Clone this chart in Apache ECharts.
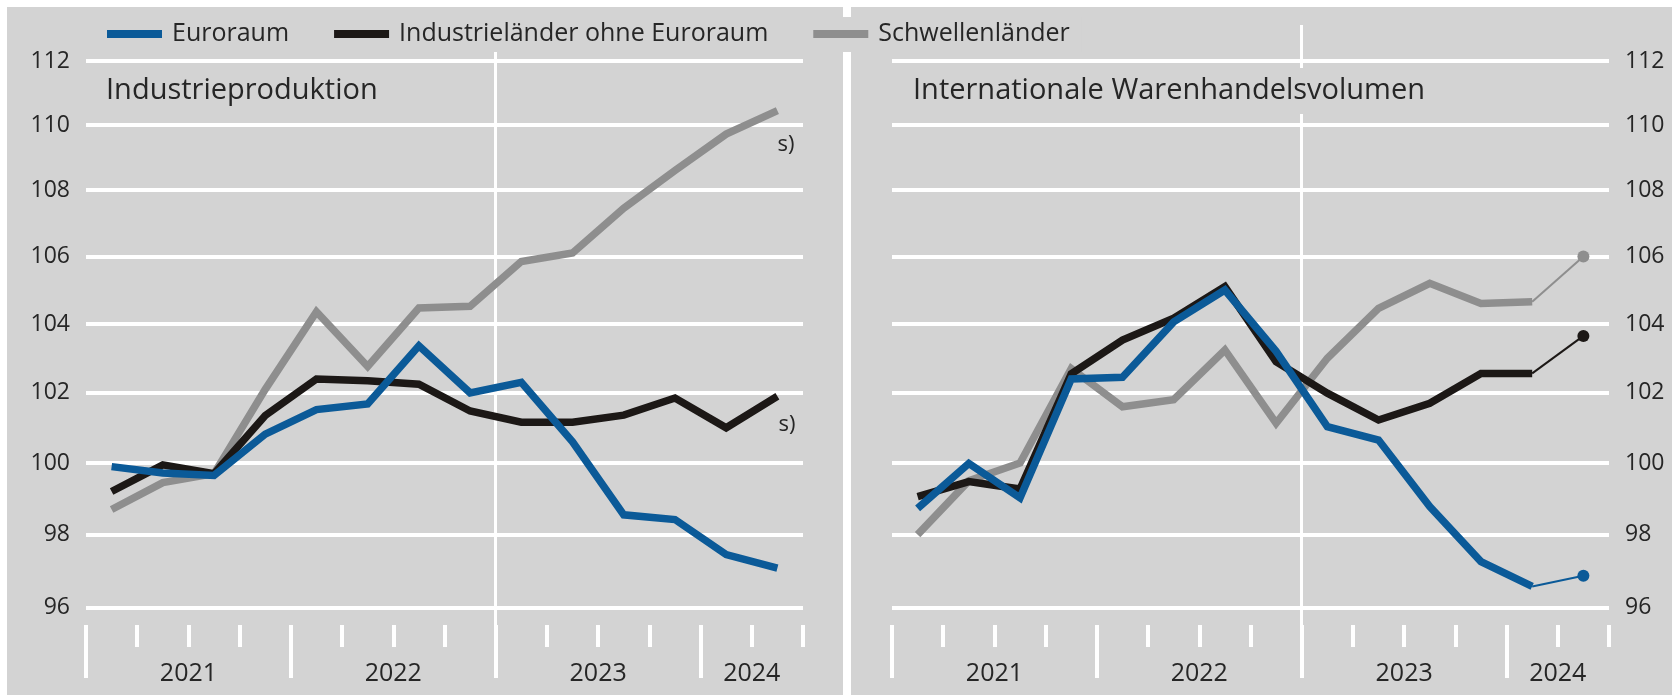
<!DOCTYPE html>
<html>
<head>
<meta charset="utf-8">
<script src="https://cdn.jsdelivr.net/npm/echarts@6/dist/echarts.min.js"></script>
<style>
  html, body { margin: 0; padding: 0; background: #ffffff; }
  #wrap { position: relative; width: 1672px; height: 695px; overflow: hidden; }
  .bg { position: absolute; background: #d3d3d3; }
  #chart { position: absolute; left: 0; top: 0; width: 1672px; height: 695px; }
</style>
</head>
<body>
<div id="wrap">
  <div class="bg" style="left:7px;top:7px;width:836px;height:688px;"></div>
  <div class="bg" style="left:851px;top:7px;width:821px;height:688px;"></div>
  <div id="chart"></div>
</div>
<script>
// ---------- data ----------
const quarters = ['2021 Q1','2021 Q2','2021 Q3','2021 Q4','2022 Q1','2022 Q2','2022 Q3','2022 Q4',
                  '2023 Q1','2023 Q2','2023 Q3','2023 Q4','2024 Q1','2024 Q2'];
const years = ['2021', '2022', '2023', '2024'];
const quartersPerYear = [4, 4, 4, 2];
const yTicks = [96, 98, 100, 102, 104, 106, 108, 110, 112];

const seriesNames = ['Euroraum', 'Industrieländer ohne Euroraum', 'Schwellenländer'];
const panelTitles = ['Industrieproduktion', 'Internationale Warenhandelsvolumen'];

// Industrieproduktion (left)
const ipEuro  = [99.9, 99.72, 99.65, 100.82, 101.52, 101.68, 103.36, 102.0, 102.3, 100.6, 98.55, 98.42, 97.45, 97.08];
const ipInd   = [99.2, 99.95, 99.7, 101.35, 102.4, 102.35, 102.25, 101.48, 101.16, 101.16, 101.36, 101.85, 101.0, 101.9];
const ipEm    = [98.7, 99.45, 99.7, 102.1, 104.36, 102.76, 104.47, 104.52, 105.85, 106.1, 107.45, 108.6, 109.72, 110.45];

// Internationale Warenhandelsvolumen (right): 13 quarters + latest value
const tvEuro  = [98.73, 99.99, 99.02, 102.4, 102.45, 104.06, 105.0, 103.2, 101.03, 100.65, 98.78, 97.26, 96.58];
const tvInd   = [99.06, 99.48, 99.27, 102.55, 103.53, 104.17, 105.1, 102.9, 101.99, 101.22, 101.7, 102.56, 102.56];
const tvEm    = [98.0, 99.5, 100.0, 102.7, 101.6, 101.8, 103.24, 101.13, 103.0, 104.46, 105.2, 104.6, 104.65];
const tvEuroLatest = 96.87;
const tvIndLatest  = 103.65;
const tvEmLatest   = 106.0;

// ---------- style ----------
const FONT = '"Open Sans", "Noto Sans", sans-serif';
const TXT = '#262626';
const BG = '#d3d3d3';
const colors = { euro: '#0b5a98', ind: '#1c1816', em: '#8e8e8e' };

// tick positions (in quarter units) derived from year structure
const yearStarts = [];
let acc = 0;
quartersPerYear.forEach(q => { yearStarts.push(acc); acc += q; });
const nQ = quarters.length;
const longTicks = yearStarts.slice();
const shortTicks = [];
for (let i = 1; i <= nQ; i++) { if (longTicks.indexOf(i) < 0) shortTicks.push(i); }
const labelPos = yearStarts.map((s, i) => s + quartersPerYear[i] / 2);
const yearLabelMap = {};
labelPos.forEach((p, i) => { yearLabelMap[p] = years[i]; });
const splitYearIndex = years.indexOf('2023');
const splitTick = yearStarts[splitYearIndex];

const grids = [
  { left: 86, top: 61, width: 717, height: 547 },
  { left: 892, top: 61, width: 717, height: 547 }
];

const xAxes = [];
const yAxes = [];
[0, 1].forEach(g => {
  xAxes.push({ // data axis
    type: 'category', gridIndex: g, data: quarters, boundaryGap: true, show: false
  });
  const base = {
    type: 'value', gridIndex: g, min: 0, max: nQ, position: 'bottom',
    axisLine: { show: false }, splitLine: { show: false }
  };
  xAxes.push(Object.assign({}, base, { // short quarter ticks
    offset: 17,
    axisTick: { show: true, length: 22, customValues: shortTicks, lineStyle: { color: '#fff', width: 4 } },
    axisLabel: { show: false }
  }));
  xAxes.push(Object.assign({}, base, { // long year ticks + labels
    offset: 17,
    axisTick: { show: true, length: 53, customValues: longTicks, lineStyle: { color: '#fff', width: 4 } },
    axisLabel: {
      show: true, customValues: labelPos, margin: 36,
      formatter: v => yearLabelMap[v] || '',
      fontFamily: FONT, fontSize: 25, color: TXT
    }
  }));
  xAxes.push(Object.assign({}, base, { // vertical year separator line
    offset: 70,
    axisTick: { show: true, inside: true, length: 653, customValues: [splitTick], lineStyle: { color: '#fff', width: 3 } },
    axisLabel: { show: false }
  }));
  yAxes.push({
    type: 'log', logBase: 10, gridIndex: g, min: 95.995, max: 112.005,
    position: g === 0 ? 'left' : 'right',
    axisLine: { show: false },
    axisTick: { show: false, customValues: yTicks },
    axisLabel: {
      customValues: yTicks, margin: 16,
      formatter: v => String(Math.round(v)),
      fontFamily: FONT, fontSize: 23, color: TXT
    },
    splitLine: { show: true, lineStyle: { color: '#ffffff', width: 4 } }
  });
});

function thick(name, color, data, g, extra) {
  return Object.assign({
    name: name, type: 'line', xAxisIndex: g * 4, yAxisIndex: g,
    data: data, symbol: 'none', color: color,
    lineStyle: { width: 7.5, color: color, join: 'miter' },
    itemStyle: { color: color },
    emphasis: { disabled: true }, animation: false
  }, extra || {});
}
function thin(name, color, data, latest, g) {
  const arr = quarters.map((q, i) => {
    if (i === data.length - 1) return { value: data[i], symbol: 'none' };
    if (i === data.length) return { value: latest, symbol: 'circle', symbolSize: 12 };
    return null;
  });
  return {
    name: name, type: 'line', xAxisIndex: g * 4, yAxisIndex: g,
    data: arr, symbol: 'circle', symbolSize: 12, showAllSymbol: true, color: color,
    lineStyle: { width: 2, color: color }, itemStyle: { color: color },
    emphasis: { disabled: true }, animation: false
  };
}
const sLabel = (off) => ({
  show: true, formatter: 's)', offset: off,
  fontFamily: FONT, fontSize: 22, color: TXT
});

const series = [
  thick(seriesNames[2], colors.em, ipEm, 0, { endLabel: sLabel([-8, 34]) }),
  thick(seriesNames[1], colors.ind, ipInd, 0, { endLabel: sLabel([-7, 28]) }),
  thick(seriesNames[0], colors.euro, ipEuro, 0),
  thick(seriesNames[2], colors.em, tvEm, 1),
  thin(seriesNames[2], colors.em, tvEm, tvEmLatest, 1),
  thick(seriesNames[1], colors.ind, tvInd, 1),
  thin(seriesNames[1], colors.ind, tvInd, tvIndLatest, 1),
  thick(seriesNames[0], colors.euro, tvEuro, 1),
  thin(seriesNames[0], colors.euro, tvEuro, tvEuroLatest, 1)
];

const chart = echarts.init(document.getElementById('chart'), null, { renderer: 'canvas' });
chart.setOption({
  backgroundColor: 'transparent',
  animation: false,
  title: [
    { text: panelTitles[0], left: 100, top: 68, padding: [8, 6, 8, 6], backgroundColor: BG,
      textStyle: { fontFamily: FONT, fontSize: 29, fontWeight: 'normal', color: TXT, lineHeight: 30 } },
    { text: panelTitles[1], left: 907, top: 68, padding: [8, 6, 8, 6], backgroundColor: BG,
      textStyle: { fontFamily: FONT, fontSize: 29, fontWeight: 'normal', color: TXT, lineHeight: 30 } }
  ],
  legend: {
    data: seriesNames, left: 95, top: 17, padding: [4, 12, 5, 12], backgroundColor: BG,
    itemWidth: 55, itemHeight: 8, itemGap: 45, icon: 'rect', selectedMode: false,
    textStyle: { fontFamily: FONT, fontSize: 25, color: TXT, lineHeight: 26, padding: [0, 0, 0, 5] }
  },
  grid: grids,
  xAxis: xAxes,
  yAxis: yAxes,
  series: series
});
</script>
</body>
</html>
